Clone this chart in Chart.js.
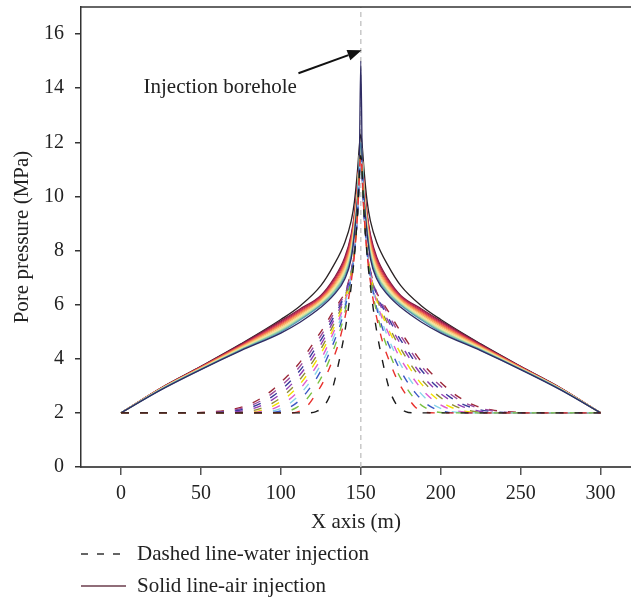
<!DOCTYPE html>
<html>
<head>
<meta charset="utf-8">
<script src="https://cdn.jsdelivr.net/npm/chart.js@4"></script>
<style>
  html, body { margin: 0; padding: 0; background: #fff; }
</style>
</head>
<body>
<canvas id="chart" width="631" height="599"></canvas>
<script>
(function () {
  'use strict';

  // axis ticks
  const xTicks = [0, 50, 100, 150, 200, 250, 300];
  const yTicks = [0, 2, 4, 6, 8, 10, 12, 14, 16];
  const boreholeX = 150;

  // water injection (dashed), pressure vs distance from the borehole (m)
  const waterOffsets = [0, 2, 4, 7, 10, 14, 18, 23, 28, 34, 40, 47, 55, 63, 72, 82, 95, 110, 150];
  const water1  = [11.5, 9.4, 7.8, 6.2, 5.0, 3.8, 2.85, 2.25, 2.05, 2.0, 2.0, 2.0, 2.0, 2.0, 2.0, 2.0, 2.0, 2.0, 2.0];
  const water2  = [11.5, 9.4, 7.85, 6.45, 5.5, 4.55, 3.9, 3.2, 2.7, 2.22, 2.03, 2.0, 2.0, 2.0, 2.0, 2.0, 2.0, 2.0, 2.0];
  const water3  = [11.5, 9.4, 7.9, 6.6, 5.7, 4.85, 4.2, 3.5, 2.98, 2.5, 2.2, 2.04, 2.0, 2.0, 2.0, 2.0, 2.0, 2.0, 2.0];
  const water4  = [11.5, 9.4, 7.9, 6.7, 5.85, 5.05, 4.45, 3.78, 3.25, 2.75, 2.38, 2.13, 2.02, 2.0, 2.0, 2.0, 2.0, 2.0, 2.0];
  const water5  = [11.5, 9.4, 7.92, 6.75, 5.97, 5.25, 4.65, 4.0, 3.48, 2.97, 2.57, 2.25, 2.07, 2.01, 2.0, 2.0, 2.0, 2.0, 2.0];
  const water6  = [11.5, 9.4, 7.94, 6.8, 6.07, 5.4, 4.85, 4.2, 3.7, 3.18, 2.75, 2.4, 2.15, 2.04, 2.0, 2.0, 2.0, 2.0, 2.0];
  const water7  = [11.5, 9.4, 7.95, 6.84, 6.15, 5.53, 5.0, 4.4, 3.9, 3.37, 2.93, 2.55, 2.25, 2.08, 2.01, 2.0, 2.0, 2.0, 2.0];
  const water8  = [11.5, 9.4, 7.96, 6.88, 6.23, 5.65, 5.15, 4.57, 4.08, 3.55, 3.1, 2.7, 2.37, 2.16, 2.04, 2.0, 2.0, 2.0, 2.0];
  const water9  = [11.5, 9.4, 7.97, 6.91, 6.3, 5.76, 5.3, 4.73, 4.25, 3.72, 3.27, 2.85, 2.5, 2.25, 2.09, 2.02, 2.0, 2.0, 2.0];
  const water10 = [11.5, 9.4, 7.98, 6.94, 6.36, 5.86, 5.43, 4.88, 4.42, 3.88, 3.43, 3.0, 2.62, 2.34, 2.15, 2.05, 2.0, 2.0, 2.0];
  const water11 = [11.5, 9.4, 7.99, 6.97, 6.41, 5.96, 5.56, 5.03, 4.58, 4.04, 3.58, 3.15, 2.74, 2.43, 2.21, 2.08, 2.01, 2.0, 2.0];
  const water12 = [11.5, 9.4, 8.0, 7.0, 6.45, 6.05, 5.68, 5.18, 4.73, 4.2, 3.73, 3.3, 2.86, 2.52, 2.26, 2.11, 2.03, 2.0, 2.0];
  const waterColors = ['#1a1a1a', '#e8312d', '#7ac142', '#3b57c4', '#86d4ea', '#de5ccf',
                       '#f2e100', '#8f8a3a', '#8f3fb5', '#3a3a9a', '#9b4a9d', '#9c2a3a'];

  // air injection (solid)
  const airOffsets = [0, 1, 2, 4, 6, 10, 17, 25, 38, 50, 75, 100, 125, 150];
  const air1  = [12.3, 11.8, 11.0, 9.8, 9.1, 8.3, 7.45, 6.7, 5.95, 5.45, 4.55, 3.72, 2.92, 2.0];
  const air2  = [12.0, 11.3, 10.5, 9.35, 8.6, 7.75, 6.95, 6.34, 5.84, 5.4, 4.53, 3.71, 2.92, 2.0];
  const air3  = [12.0, 11.3, 10.45, 9.28, 8.52, 7.68, 6.9, 6.3, 5.8, 5.36, 4.51, 3.70, 2.91, 2.0];
  const air4  = [12.0, 11.3, 10.39, 9.21, 8.44, 7.6, 6.84, 6.27, 5.76, 5.32, 4.49, 3.69, 2.91, 2.0];
  const air5  = [12.0, 11.3, 10.34, 9.15, 8.35, 7.53, 6.79, 6.23, 5.72, 5.28, 4.47, 3.68, 2.90, 2.0];
  const air6  = [12.0, 11.3, 10.28, 9.08, 8.27, 7.46, 6.73, 6.2, 5.68, 5.24, 4.45, 3.67, 2.90, 2.0];
  const air7  = [12.0, 11.3, 10.23, 9.01, 8.19, 7.39, 6.68, 6.16, 5.64, 5.2, 4.43, 3.66, 2.89, 2.0];
  const air8  = [12.0, 11.3, 10.17, 8.94, 8.11, 7.31, 6.62, 6.12, 5.59, 5.15, 4.40, 3.65, 2.89, 2.0];
  const air9  = [12.0, 11.3, 10.12, 8.87, 8.03, 7.24, 6.57, 6.09, 5.55, 5.11, 4.38, 3.64, 2.88, 2.0];
  const air10 = [12.0, 11.3, 10.06, 8.8, 7.95, 7.17, 6.51, 6.05, 5.51, 5.07, 4.36, 3.63, 2.88, 2.0];
  const air11 = [12.0, 11.3, 10.01, 8.73, 7.86, 7.1, 6.46, 6.01, 5.47, 5.03, 4.34, 3.62, 2.87, 2.0];
  const air12 = [12.0, 11.3, 9.95, 8.66, 7.78, 7.02, 6.4, 5.98, 5.43, 4.99, 4.32, 3.61, 2.86, 2.0];
  const air13 = [15.0, 10.9, 9.9, 8.6, 7.7, 6.95, 6.35, 5.9, 5.35, 4.95, 4.3, 3.6, 2.85, 2.0];
  const airColors = ['#2a2224', '#7d1d3f', '#a5214c', '#cf3453', '#ea5a4d', '#f5844f', '#f9ac62',
                     '#fbd083', '#f1e7a0', '#c4e3a4', '#87c9a6', '#5597b6', '#2f2c63'];

  const legendLabels = ['Dashed line-water injection', 'Solid line-air injection'];
  const noteText = 'Injection borehole';
  const noteAt = [110, 14.03];      // right end of the label
  const arrowFrom = [111, 14.55];
  const arrowTo = [150.5, 15.4];

  const waterSeries = [water1, water2, water3, water4, water5, water6, water7, water8, water9, water10, water11, water12];
  const airSeries = [air1, air2, air3, air4, air5, air6, air7, air8, air9, air10, air11, air12, air13];

  // both sides of the borehole
  function toPoints(offsets, vals) {
    const pts = [];
    for (let i = offsets.length - 1; i > 0; i--) pts.push({ x: boreholeX - offsets[i], y: vals[i] });
    for (let i = 0; i < offsets.length; i++) pts.push({ x: boreholeX + offsets[i], y: vals[i] });
    return pts;
  }

  const datasets = [];
  waterSeries.forEach(function (vals, i) {
    datasets.push({
      data: toPoints(waterOffsets, vals),
      borderColor: waterColors[i],
      borderWidth: 1.4,
      borderDash: [8, 11]
    });
  });
  airSeries.slice().reverse().forEach(function (vals, j) {
    const i = airSeries.length - 1 - j;
    datasets.push({
      data: toPoints(airOffsets, vals),
      borderColor: airColors[i],
      borderWidth: 1.3
    });
  });
  // borehole line
  datasets.push({
    data: [{ x: boreholeX, y: 0 }, { x: boreholeX, y: 17 }],
    borderColor: '#c8c8c8',
    borderWidth: 1.5,
    borderDash: [5, 4],
    cubicInterpolationMode: 'default',
    tension: 0
  });

  const serif = 'Liberation Serif, Times New Roman, serif';
  const tickFont = { family: serif, size: 20 };
  const labelFont = { family: serif, size: 21 };
  const ink = '#222';

  const extras = {
    id: 'extras',
    afterDatasetsDraw: function (chart) {
      const c = chart.ctx, x = chart.scales.x, y = chart.scales.y, a = chart.chartArea;
      c.save();
      // top frame
      c.strokeStyle = '#333';
      c.lineWidth = 1.5;
      c.beginPath();
      c.moveTo(a.left, a.top);
      c.lineTo(a.right, a.top);
      c.stroke();
      // label + arrow
      c.fillStyle = ink;
      c.font = '21px ' + serif;
      c.textAlign = 'right';
      c.textBaseline = 'middle';
      c.fillText(noteText, x.getPixelForValue(noteAt[0]), y.getPixelForValue(noteAt[1]));
      const x0 = x.getPixelForValue(arrowFrom[0]), y0 = y.getPixelForValue(arrowFrom[1]);
      const x1 = x.getPixelForValue(arrowTo[0]), y1 = y.getPixelForValue(arrowTo[1]);
      const ang = Math.atan2(y1 - y0, x1 - x0);
      const hl = 14, hw = 5.5;
      c.strokeStyle = '#111';
      c.lineWidth = 2;
      c.beginPath();
      c.moveTo(x0, y0);
      c.lineTo(x1 - hl * Math.cos(ang), y1 - hl * Math.sin(ang));
      c.stroke();
      c.fillStyle = '#111';
      c.beginPath();
      c.moveTo(x1, y1);
      c.lineTo(x1 - hl * Math.cos(ang) + hw * Math.sin(ang), y1 - hl * Math.sin(ang) - hw * Math.cos(ang));
      c.lineTo(x1 - hl * Math.cos(ang) - hw * Math.sin(ang), y1 - hl * Math.sin(ang) + hw * Math.cos(ang));
      c.closePath();
      c.fill();
      c.restore();
    },
    afterDraw: function (chart) {
      const c = chart.ctx;
      const rows = [554, 586];
      c.save();
      c.lineWidth = 1.3;
      // dashed sample
      c.strokeStyle = '#333';
      c.setLineDash([7, 9]);
      c.beginPath();
      c.moveTo(81, rows[0]);
      c.lineTo(126, rows[0]);
      c.stroke();
      // solid sample
      c.setLineDash([]);
      c.strokeStyle = '#6b3d4c';
      c.beginPath();
      c.moveTo(81, rows[1]);
      c.lineTo(126, rows[1]);
      c.stroke();
      c.fillStyle = ink;
      c.font = '21px ' + serif;
      c.textAlign = 'left';
      c.textBaseline = 'middle';
      c.fillText(legendLabels[0], 137, rows[0]);
      c.fillText(legendLabels[1], 137, rows[1]);
      c.restore();
    }
  };

  const ctx = document.getElementById('chart').getContext('2d');
  new Chart(ctx, {
    type: 'line',
    data: { datasets: datasets },
    options: {
      responsive: false,
      animation: false,
      layout: { padding: { top: 7, right: 0, bottom: 64, left: 0 } },
      plugins: { legend: { display: false }, tooltip: { enabled: false } },
      elements: {
        point: { radius: 0 },
        line: { cubicInterpolationMode: 'monotone', fill: false }
      },
      scales: {
        x: {
          type: 'linear',
          min: -25,
          max: 319,
          afterBuildTicks: function (s) { s.ticks = xTicks.map(function (v) { return { value: v }; }); },
          afterFit: function (s) { s.height = 68; s.paddingLeft = 0; s.paddingRight = 0; },
          grid: { drawOnChartArea: false, tickLength: 8, color: '#555', lineWidth: 1.5 },
          border: { color: '#555', width: 2 },
          ticks: { font: tickFont, color: ink, padding: 7, maxRotation: 0 },
          title: { display: true, text: 'X axis (m)', font: labelFont, color: ink, padding: { top: 0, bottom: 0 } }
        },
        y: {
          type: 'linear',
          min: 0,
          max: 17,
          afterBuildTicks: function (s) { s.ticks = yTicks.map(function (v) { return { value: v }; }); },
          afterFit: function (s) { s.width = 81; s.paddingTop = 0; s.paddingBottom = 0; },
          grid: { drawOnChartArea: false, tickLength: 6, color: '#333', lineWidth: 1.5 },
          border: { color: '#333', width: 1.5 },
          ticks: { font: tickFont, color: ink, padding: 11 },
          title: { display: true, text: 'Pore pressure (MPa)', font: labelFont, color: ink, padding: { top: 10, bottom: 0 } }
        }
      }
    },
    plugins: [extras]
  });
})();
</script>
</body>
</html>
